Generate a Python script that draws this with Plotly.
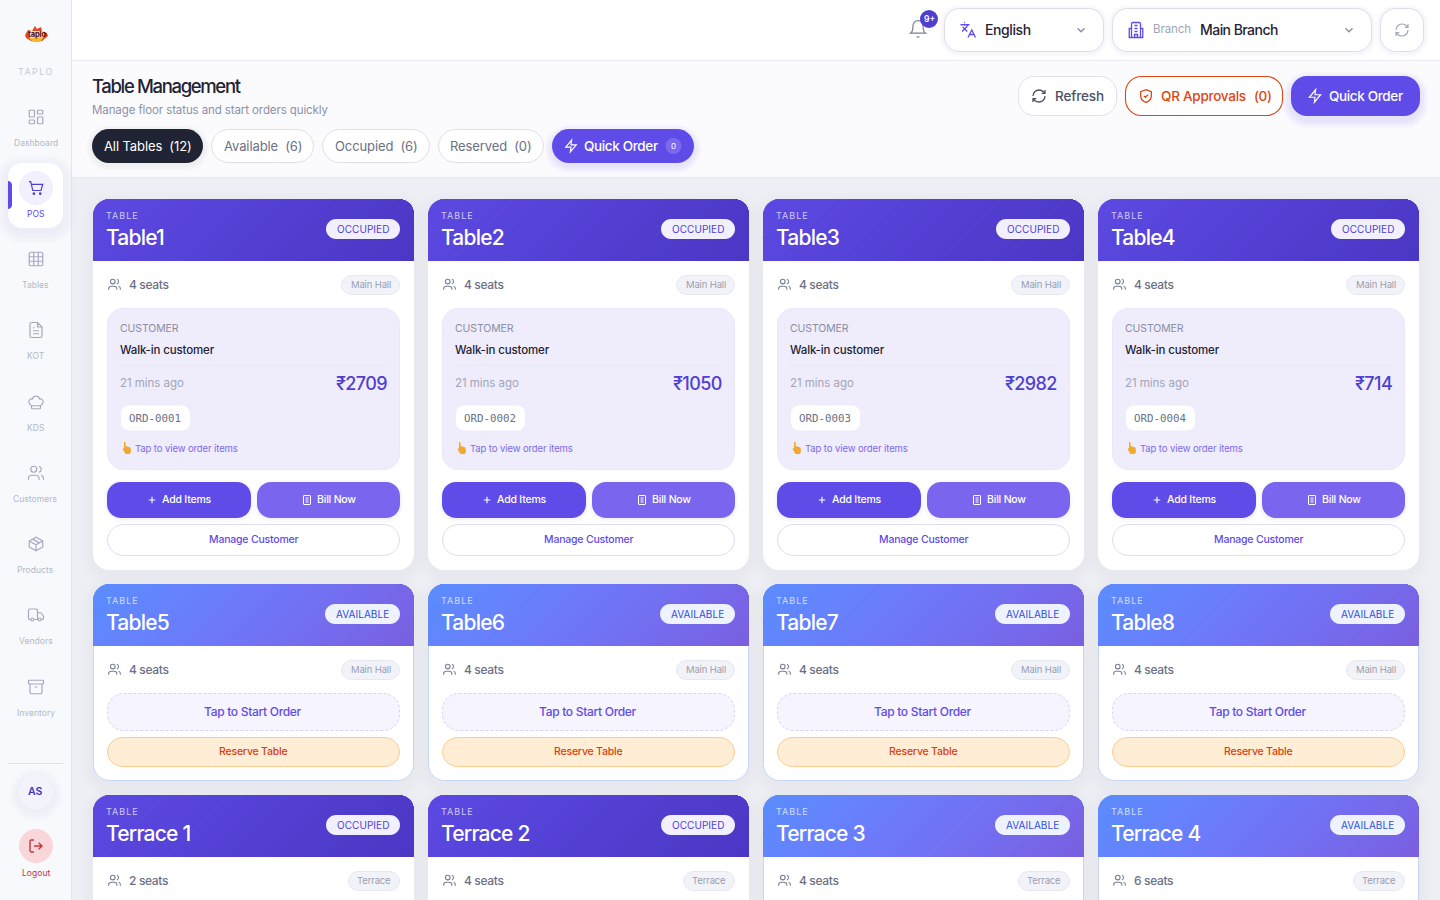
import math
import re
import plotly.graph_objects as go

# ---------- content ----------
table_names = ["Table1", "Table2", "Table3", "Table4", "Table5", "Table6", "Table7", "Table8",
               "Terrace 1", "Terrace 2", "Terrace 3", "Terrace 4"]
table_status = ["OCCUPIED"] * 4 + ["AVAILABLE"] * 4 + ["OCCUPIED", "OCCUPIED", "AVAILABLE", "AVAILABLE"]
table_seats = [4, 4, 4, 4, 4, 4, 4, 4, 2, 4, 4, 6]
table_zone = ["Main Hall"] * 8 + ["Terrace"] * 4
order_amount = [2709, 1050, 2982, 714]
order_id = ["ORD-0001", "ORD-0002", "ORD-0003", "ORD-0004"]
nav_labels = ["Dashboard", "POS", "Tables", "KOT", "KDS", "Customers", "Products", "Vendors", "Inventory"]
filter_labels = ["All Tables  (12)", "Available  (6)", "Occupied  (6)", "Reserved  (0)"]

FONT = "Inter"
MONO = "DejaVu Sans Mono"
PURPLE = "#5F4BE8"
DEEP = "#4F3FD0"
INK = "#1F2333"

shapes, annos = [], []


def txt(x, y, s, size, color, anchor="left", ls=-0.3, font=FONT, weight=400):
    annos.append(dict(x=x - (0.5 if anchor == "left" else 0), y=y - 0.7, xref="x", yref="y", showarrow=False,
                      xanchor=anchor, yanchor="middle",
                      text=f'<span style="letter-spacing:{ls}px">{s}</span>', align=anchor,
                      font=dict(family=font, size=size, color=color, weight=weight),
                      borderpad=0, borderwidth=0))


def rr_path(x0, y0, x1, y1, r):
    if isinstance(r, (int, float)):
        r = (r, r, r, r)
    tl, tr, br, bl = r
    k = 0.4477
    return (f"M{x0+tl},{y0} L{x1-tr},{y0} C{x1-tr*k},{y0} {x1},{y0+tr*k} {x1},{y0+tr} "
            f"L{x1},{y1-br} C{x1},{y1-br*k} {x1-br*k},{y1} {x1-br},{y1} "
            f"L{x0+bl},{y1} C{x0+bl*k},{y1} {x0},{y1-bl*k} {x0},{y1-bl} "
            f"L{x0},{y0+tl} C{x0},{y0+tl*k} {x0+tl*k},{y0} {x0+tl},{y0} Z")


def box(x0, y0, x1, y1, r=0, fill="#fff", line=None, lw=1, dash=None, layer="above", opacity=1):
    ln = dict(width=lw if line else 0, color=line or "rgba(0,0,0,0)")
    if dash:
        ln["dash"] = dash
    if line:
        x0, y0, x1, y1 = x0 + .5, y0 + .5, x1 - .5, y1 - .5
    shapes.append(dict(type="path", xref="x", yref="y", path=rr_path(x0, y0, x1, y1, r), fillcolor=fill,
                       line=ln, layer=layer, opacity=opacity))


def shadow(x0, y0, x1, y1, r, rgb, dy=4, blur=12, a=0.012, layer="below"):
    for i in range(blur, 0, -2):
        box(x0 - i, y0 - i + dy, x1 + i, y1 + i + dy, r + i, f"rgba({rgb},{a})", layer=layer)


def c(cx, cy, r):
    k = 0.5523 * r
    return (f"M{cx+r} {cy}C{cx+r} {cy+k} {cx+k} {cy+r} {cx} {cy+r}C{cx-k} {cy+r} {cx-r} {cy+k} {cx-r} {cy}"
            f"C{cx-r} {cy-k} {cx-k} {cy-r} {cx} {cy-r}C{cx+k} {cy-r} {cx+r} {cy-k} {cx+r} {cy}Z")


def r2(x, y, w, h, r):
    return rr_path(x, y, x + w, y + h, r).replace(",", " ")


ICONS = {
    "grid": r2(3, 3, 7, 9, 1) + r2(14, 3, 7, 5, 1) + r2(14, 12, 7, 9, 1) + r2(3, 16, 7, 5, 1),
    "cart": "M2 3L4.5 3L7.5 15.5L19 15.5L21.5 7L5.3 7" + c(9, 20, 1) + c(18, 20, 1),
    "table": r2(3, 3, 18, 18, 2) + "M3 9L21 9M3 15L21 15M9 3L9 21M15 3L15 21",
    "file": "M14 2L6 2C5 2 4 3 4 4L4 20C4 21 5 22 6 22L18 22C19 22 20 21 20 20L20 8ZM14 2L14 8L20 8M8 13L16 13M8 17L16 17M8 9L10 9",
    "hat": "M6 17L6 20C6 20.6 6.4 21 7 21L17 21C17.6 21 18 20.6 18 20L18 17M6 17C4 16 2.5 14 2.5 12C2.5 9.5 4.5 7.5 7 8C8 5 10 4 12 4C14 4 16 5 17 8C19.5 7.5 21.5 9.5 21.5 12C21.5 14 20 16 18 17Z",
    "users": c(9, 7, 4) + "M2 21L2 19C2 16.5 4.5 15 7 15L11 15C13.5 15 16 16.5 16 19L16 21M16 3.1C17.8 3.6 19 5.2 19 7C19 8.8 17.8 10.4 16 10.9M22 21L22 19C22 17 20.8 15.6 19 15.1",
    "box": "M21 8L12 3L3 8L3 16L12 21L21 16ZM3 8L12 13L21 8M12 13L12 21M7.5 5.5L16.5 10.5",
    "truck": "M14 18L14 6C14 5 13 4 12 4L4 4C3 4 2 5 2 6L2 17C2 17.6 2.4 18 3 18L5 18M15 18L9 18M19 18L21 18C21.6 18 22 17.6 22 17L22 13.5L18.5 9L14 9" + c(7, 18, 2) + c(17, 18, 2),
    "archive": r2(2, 3, 20, 5, 1) + "M4 8L4 19C4 20 5 21 6 21L18 21C19 21 20 20 20 19L20 8M10 12L14 12",
    "logout": "M9 21L5 21C4 21 3 20 3 19L3 5C3 4 4 3 5 3L9 3M16 17L21 12L16 7M21 12L9 12",
    "bell": "M6 8C6 4.7 8.7 2 12 2C15.3 2 18 4.7 18 8C18 15 21 17 21 17L3 17C3 17 6 15 6 8ZM10.3 21C11 22 13 22 13.7 21",
    "translate": "M5 8L11 14M4 14L10 8L12 5M2 5L14 5M7 2L8 2M22 22L17 12L12 22M14 18L20 18",
    "building": r2(6, 2, 12, 20, 2) + "M6 10L3 10L3 22L21 22L21 10L18 10M10 22L10 18L14 18L14 22M10 6L14 6M10 10L14 10M10 14L14 14",
    "refresh": "M3 12C3 7 7 3 12 3C14.5 3 16.9 4 18.7 5.7L21 8M21 3L21 8L16 8M21 12C21 17 17 21 12 21C9.5 21 7.1 20 5.3 18.3L3 16M8 16L3 16L3 21",
    "chevron": "M6 9L12 15L18 9",
    "zap": "M13 2L3 14L12 14L11 22L21 10L12 10Z",
    "shield": "M12 2.5L20 5.5L20 12C20 17 16 20 12 21.5C8 20 4 17 4 12L4 5.5ZM9 12L11 14L15 10",
    "plus": "M5 12L19 12M12 5L12 19",
    "bill": r2(5, 3, 14, 18, 1) + "M9 8L15 8M9 12L15 12M9 16L15 16",
}


def icon(name, cx, cy, size, color, lw=1.3):
    s = size / 24
    toks = re.findall(r"[MLCZ]|-?\d+\.?\d*(?:e-?\d+)?", ICONS[name])
    out, isx = [], True
    for t in toks:
        if t in "MLCZ":
            out.append(t)
            isx = True
        else:
            v = float(t) - 12
            out.append(f"{(cx if isx else cy) + v*s:.2f}")
            isx = not isx
    shapes.append(dict(type="path", xref="x", yref="y", path=" ".join(out), line=dict(color=color, width=lw),
                       fillcolor="rgba(0,0,0,0)", layer="above"))


def hex_rgb(h):
    return [int(h[i:i + 2], 16) for i in (1, 3, 5)]


def clip_band(poly, x_plus_y_min):
    out = []
    n = len(poly)
    for i in range(n):
        a, b = poly[i], poly[(i + 1) % n]
        da, db = a[0] + a[1] - x_plus_y_min, b[0] + b[1] - x_plus_y_min
        if da >= 0:
            out.append(a)
        if da * db < 0:
            t = da / (da - db)
            out.append((a[0] + t * (b[0] - a[0]), a[1] + t * (b[1] - a[1])))
    return out


def grad_header(x0, y0, x1, y1, r, stops, n=30):
    # CSS-style 135deg gradient painted back to front so no seams appear between bands
    poly = []
    for i in range(9):
        a = math.pi + (math.pi / 2) * i / 8
        poly.append((x0 + r + r * math.cos(a), y0 + r + r * math.sin(a)))
    for i in range(9):
        a = 1.5 * math.pi + (math.pi / 2) * i / 8
        poly.append((x1 - r + r * math.cos(a), y0 + r + r * math.sin(a)))
    poly += [(x1, y1), (x0, y1)]
    lo, hi = x0 + y0, x1 + y1
    for k in range(n):
        t = (k + 0.5) / n
        for (p0, c0), (p1, c1) in zip(stops, stops[1:]):
            if p0 <= t <= p1:
                f = (t - p0) / (p1 - p0)
                rgb = [round(u + (v - u) * f) for u, v in zip(hex_rgb(c0), hex_rgb(c1))]
                break
        pts = clip_band(poly, lo + (hi - lo) * k / n) if k else poly
        if len(pts) < 3:
            continue
        path = "M" + " L".join(f"{p[0]:.2f},{p[1]:.2f}" for p in pts) + " Z"
        shapes.append(dict(type="path", xref="x", yref="y", path=path, layer="above", line=dict(width=0),
                           fillcolor=f"rgb({rgb[0]},{rgb[1]},{rgb[2]})"))


# ---------- page frame ----------
box(72, 178, 1440, 900, 0, "#EEEFF5", layer="below")
box(72, 61, 1440, 177, 0, "#FBFBFE", layer="below")
box(72, 0, 1440, 60, 0, "#FFFFFF", layer="below")
box(72, 60, 1440, 61, 0, "#E8EAF1", layer="below")
box(72, 177, 1440, 178, 0, "#E8EAF1", layer="below")
box(0, 0, 71, 900, 0, "#F8F9FC", layer="below")
box(71, 0, 72, 900, 0, "#E3E6EF", layer="below")

# ---------- sidebar ----------
shapes.append(dict(type="path", xref="x", yref="y", layer="above", fillcolor="#E8471C", line=dict(width=0),
                   path="M25 35 L28 30 L32 31 L35 26 L37 29 L41 27 L42 31 L47 33 L48 36 L42 41 L31 41 L26 38 Z"))
box(29, 31, 44, 38, 2, "#FBEBD8")
shapes.append(dict(type="path", xref="x", yref="y", layer="above", fillcolor="#F5B52E", line=dict(width=0),
                   path="M29 38 L44 37 L40 42 L33 42 Z"))
txt(36.5, 35, "taplo", 7.5, "#5C1A14", "center", -0.2, weight=800)
txt(35.5, 72.5, "TAPLO", 9, "#C6CAD8", "center", 1.4)

nav_icons = ["grid", "cart", "table", "file", "hat", "users", "box", "truck", "archive"]
nav_icon_y = [117, 188, 259, 330, 402, 473, 544, 615, 687]
nav_label_y = [143, 214, 285, 356, 428, 499, 570, 641, 713]
shadow(8, 163, 63, 228, 14, "120,110,200", 4, 12, 0.010)
box(8, 163, 63, 228, 14, "#FFFFFF")
box(8, 181, 12, 209, (0, 4, 4, 0), PURPLE)
shapes.append(dict(type="circle", xref="x", yref="y", x0=19, y0=171, x1=53, y1=205, fillcolor="#F2F0FC",
                   line=dict(width=0), layer="above"))
for name, ic, iy, ly in zip(nav_labels, nav_icons, nav_icon_y, nav_label_y):
    active = name == "POS"
    icon(ic, 36, iy, 18 if not active else 17, DEEP if active else "#A5A9BD", 1.2)
    txt(35.5, ly + 0.5, name, 8.5, PURPLE if active else "#B4B8C8", "center", 0.05)

box(8, 763, 63, 764, 0, "#DDE0EA")
shadow(19, 775, 53, 809, 17, "120,110,220", 3, 10, 0.014)
shapes.append(dict(type="circle", xref="x", yref="y", x0=19, y0=775, x1=53, y1=809, fillcolor="#F3F3FC",
                   line=dict(width=0), layer="above"))
txt(35.5, 792, "AS", 10.5, "#3A35C8", "center", 0, weight=600)
shapes.append(dict(type="circle", xref="x", yref="y", x0=19, y0=829, x1=53, y1=863, fillcolor="#F9D6D9",
                   line=dict(width=0), layer="above"))
icon("logout", 36, 846, 16, "#C8373A", 1.4)
txt(35.5, 873.5, "Logout", 8.5, "#C8373A", "center", 0.05)

# ---------- top bar ----------
icon("bell", 918, 29, 20, "#7B8094", 1.2)
shapes.append(dict(type="circle", xref="x", yref="y", x0=920, y0=10, x1=938, y1=28, fillcolor=DEEP,
                   line=dict(width=0), layer="above"))
txt(929, 19.5, "9+", 8.5, "#FFFFFF", "center", 0, weight=600)

for x0, x1 in [(944, 1104), (1112, 1372), (1380, 1424)]:
    shadow(x0, 8, x1, 52, 15, "130,140,190", 1, 4, 0.03)
    box(x0, 8, x1, 52, 15, "#FFFFFF", "#DADEEB")
icon("translate", 968, 30, 18, PURPLE, 1.3)
txt(985, 30, "English", 14, INK, "left", -0.4, weight=500)
icon("chevron", 1081, 30, 14, "#8B90A3", 1.4)
icon("building", 1136, 30, 18, PURPLE, 1.3)
txt(1153, 30, "Branch", 11.5, "#A0A4B5", "left", -0.1)
txt(1200, 30, "Main Branch", 14, INK, "left", -0.55, weight=500)
icon("chevron", 1349, 30, 14, "#8B90A3", 1.4)
icon("refresh", 1402, 30, 16, "#A3A8BA", 1.2)

# ---------- page head ----------
txt(92, 86.5, "Table Management", 18.5, INK, "left", -1.35, weight=500)
txt(92, 110.5, "Manage floor status and start orders quickly", 11.5, "#8C91A6", "left", -0.1)

pill_x = [(92, 203), (211, 314), (322, 430), (438, 544)]
shadow(92, 129, 203, 163, 17, "30,35,60", 2, 6, 0.02)
for i, (lab, (x0, x1)) in enumerate(zip(filter_labels, pill_x)):
    if i == 0:
        box(x0, 129, x1, 163, 17, INK)
    else:
        box(x0, 129, x1, 163, 17, "#FFFFFF", "#DDE0EC")
    txt((x0 + x1) / 2, 146.5, lab.replace("  ", "&nbsp;&nbsp;"), 13, "#FFFFFF" if i == 0 else "#6B7085", "center", -0.1)
shadow(552, 129, 694, 163, 17, "95,75,232", 3, 7, 0.03)
box(552, 129, 694, 163, 17, PURPLE)
icon("zap", 571, 146, 14, "#FFFFFF", 1.2)
txt(584, 146.5, "Quick Order", 13.5, "#FFFFFF", "left", -0.35, weight=500)
shapes.append(dict(type="circle", xref="x", yref="y", x0=665.5, y0=138, x1=681.5, y1=154, fillcolor="#7A69EE",
                   line=dict(width=0), layer="above"))
txt(673.5, 146.5, "0", 8, "#FFFFFF", "center", 0)

box(1018, 76, 1117, 116, 16, "#FFFFFF", "#DDE0EC")
icon("refresh", 1039, 96, 16, "#4B5166", 1.3)
txt(1055, 96.5, "Refresh", 13.5, "#4B5166", "left", -0.15, weight=500)
box(1125, 76, 1283, 116, 16, "#FFFFFF", "#DD4513", 1.1)
icon("shield", 1146, 96, 16, "#DD4513", 1.3)
txt(1161, 96.5, "QR Approvals", 13.5, "#DD4513", "left", -0.25, weight=500)
txt(1254.5, 96.5, "(0)", 13.5, "#DD4513", "left", -0.4, weight=500)
shadow(1291, 76, 1420, 116, 16, "95,75,232", 4, 8, 0.03)
box(1291, 76, 1420, 116, 16, PURPLE)
icon("zap", 1315, 96, 15, "#FFFFFF", 1.2)
txt(1329, 96.5, "Quick Order", 13.5, "#FFFFFF", "left", -0.35, weight=500)

# ---------- cards ----------
col_x = [93, 428, 763, 1098]
row_y = [199, 584, 795]
row_h = [371, 197, 197]
CARD_W = 321

for i, name in enumerate(table_names):
    x0 = col_x[i % 4]
    y0 = row_y[i // 4]
    h = row_h[i // 4]
    x1 = x0 + CARD_W
    occ = table_status[i] == "OCCUPIED"
    shadow(x0, y0, x1, y0 + h, 16, "90,90,140", 4, 12, 0.008)
    box(x0, y0, x1, y0 + h, 16, "#FFFFFF", None if occ else "#C4D6F8", layer="below")
    if occ:
        grad_header(x0, y0, x1, y0 + 62, 16, [(0, "#5C49E2"), (1, "#4A37C4")])
    else:
        grad_header(x0, y0, x1, y0 + 62, 16, [(0, "#5B8DFF"), (0.5, "#7076F8"), (1, "#7A5FE0")])

    txt(x0 + 13.5, y0 + 16.7, "TABLE", 9, "rgba(255,255,255,0.72)", "left", 1)
    txt(x0 + 13.5, y0 + 38.8, name, 21, "#FFFFFF", "left", -0.8, weight=500)
    bl = x1 - 88 if occ else x1 - 89
    box(bl, y0 + 20, x1 - 14, y0 + 40, 10, "#F2F0FE" if occ else "#EEF2FF")
    txt((bl + x1 - 14) / 2, y0 + 30.7, table_status[i], 10, DEEP if occ else "#2F4FD8", "center", 0.05)

    icon("users", x0 + 21.5, y0 + 85.5, 14, "#7B8094", 1.1)
    txt(x0 + 36, y0 + 85.7, f"{table_seats[i]} seats", 12, "#6B7085", "left", -0.35, weight=500)
    zl = x1 - 73 if table_zone[i] == "Main Hall" else x1 - 66
    box(zl, y0 + 76, x1 - 14, y0 + 96, 10, "#F2F3F9", "#E6E8F1")
    txt((zl + x1 - 14) / 2, y0 + 86.5, table_zone[i], 9.5, "#9A9EB0", "center", -0.15)

    lx, rx = x0 + 14, x1 - 14
    if occ and i < 4:
        box(lx, y0 + 109, rx, y0 + 271, 16, "#EFECFC", "#EAE7FA")
        txt(lx + 13, y0 + 129.7, "CUSTOMER", 10.5, "#8A8EA3", "left", -0.1)
        txt(lx + 13, y0 + 151.5, "Walk-in customer", 11.5, INK, "left", -0.15, weight=500)
        box(lx + 13, y0 + 166, rx - 13, y0 + 167, 0, "#E8E5F7")
        txt(lx + 13, y0 + 184.7, "21 mins ago", 11.5, "#A2A5B7", "left", -0.05)
        txt(rx - 13, y0 + 184.7, f"₹{order_amount[i]}", 18, DEEP, "right", -0.6, weight=500)
        box(lx + 14, y0 + 206.5, lx + 83, y0 + 231.5, 8, "#FFFFFF")
        txt(lx + 48, y0 + 219.7, order_id[i], 10.8, "#6B7085", "center", 0, MONO)
        # pointing hand
        hx, hy = x0 + 29, y0 + 243
        shapes.append(dict(type="path", xref="x", yref="y", layer="above", fillcolor="#F2A72E", line=dict(width=0),
                           path=f"M{hx+2},{hy} L{hx+3.5},{hy} L{hx+3.5},{hy+4} L{hx+8.5},{hy+5.5} L{hx+9},{hy+10} "
                                f"L{hx+7.5},{hy+12} L{hx+3.5},{hy+12} L{hx+0.5},{hy+7} L{hx+2},{hy+6} Z"))
        txt(x0 + 42, y0 + 250.5, "Tap to view order items", 9.5, "#7C6BEA", "left", -0.1)

        shadow(lx, y0 + 283, x0 + 158, y0 + 319, 14, "95,75,232", 1, 3, 0.03)
        box(lx, y0 + 283, x0 + 158, y0 + 319, 14, PURPLE)
        icon("plus", x0 + 59, y0 + 301, 11, "#FFFFFF", 1.1)
        txt(x0 + 69, y0 + 301.5, "Add Items", 10.5, "#FFFFFF", "left", -0.2, weight=500)
        shadow(x0 + 164, y0 + 283, rx, y0 + 319, 14, "95,75,232", 1, 3, 0.03)
        box(x0 + 164, y0 + 283, rx, y0 + 319, 14, "#7A66EE")
        icon("bill", x0 + 214, y0 + 301, 12, "#FFFFFF", 1)
        txt(x0 + 224, y0 + 301.5, "Bill Now", 10.5, "#FFFFFF", "left", -0.2, weight=500)
        box(lx, y0 + 325, rx, y0 + 357, 16, "#FFFFFF", "#DEDCEE")
        txt((lx + rx) / 2 - 0.5, y0 + 341.5, "Manage Customer", 10.5, PURPLE, "center", -0.2, weight=500)
    elif not occ and i < 8:
        box(lx, y0 + 109, rx, y0 + 147, 16, "#F6F4FF", "#D9D2F8", 1, "3px,2px")
        txt((lx + rx) / 2 - 0.5, y0 + 128.2, "Tap to Start Order", 12, PURPLE, "center", -0.3, weight=500)
        box(lx, y0 + 153, rx, y0 + 183, 15, "#FFEDD5", "#FCCB92")
        txt((lx + rx) / 2 - 0.5, y0 + 168.5, "Reserve Table", 10.5, "#D9400F", "center", -0.2, weight=500)

fig = go.Figure()
fig.update_layout(width=1440, height=900, margin=dict(l=0, r=0, t=0, b=0, pad=0), paper_bgcolor="#FFFFFF",
                  plot_bgcolor="#FFFFFF", showlegend=False, shapes=shapes, annotations=annos,
                  xaxis=dict(range=[0, 1440], visible=False, fixedrange=True),
                  yaxis=dict(range=[900, 0], visible=False, fixedrange=True))
fig.write_html("out.html", config=dict(displayModeBar=False, responsive=False),
               post_script="document.body.style.margin='0';document.documentElement.style.overflow='hidden';")
